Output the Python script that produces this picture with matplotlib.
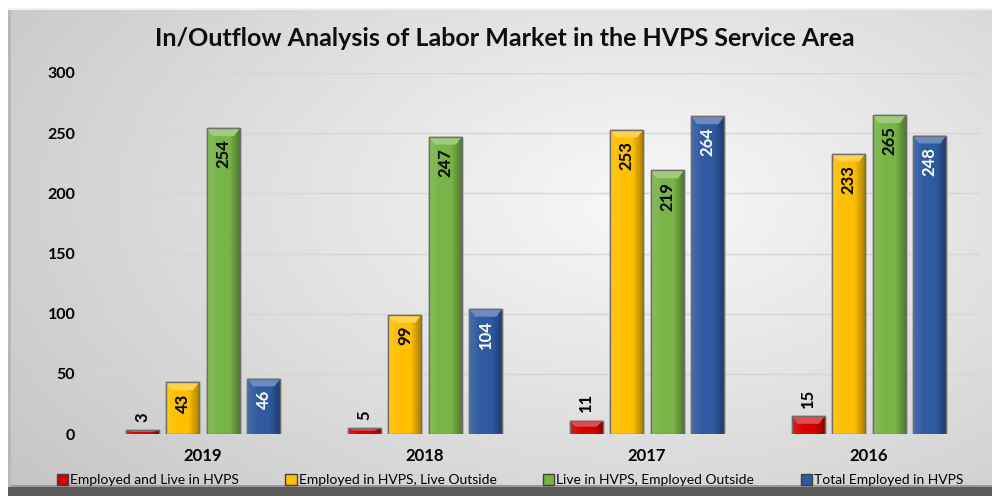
import numpy as np
import matplotlib
matplotlib.use("Agg")
import matplotlib.pyplot as plt
from matplotlib.colors import LinearSegmentedColormap, to_rgb
from matplotlib.patches import Polygon

plt.rcParams['font.family'] = ['Lato', 'DejaVu Sans']

# ---- data ----
years = ["2019", "2018", "2017", "2016"]
series_names = ["Employed and Live in HVPS", "Employed in HVPS, Live Outside",
                "Live in HVPS, Employed Outside", "Total Employed in HVPS"]
employed_live = [3, 5, 11, 15]
employed_outside = [43, 99, 253, 233]
live_employed_out = [254, 247, 219, 265]
total_employed = [46, 104, 264, 248]
y_ticks = [0, 50, 100, 150, 200, 250, 300]
title = "In/Outflow Analysis of Labor Market in the HVPS Service Area"

series = [employed_live, employed_outside, live_employed_out, total_employed]
colors = ["#d40000", "#ffc000", "#78b446", "#2f5aa0"]
label_colors = ["black", "black", "black", "white"]

W, H = 992, 496
fig = plt.figure(figsize=(W / 100, H / 100), dpi=100)
fig.patch.set_facecolor("white")

# ---- background frame with radial gradient ----
bg = fig.add_axes([0, 0, 1, 1], zorder=-10)
bg.set_xlim(0, W)
bg.set_ylim(H, 0)
bg.axis("off")
yy, xx = np.mgrid[0:H, 0:W]
d = np.sqrt(((xx - 640) / 640.0) ** 2 + ((yy - 200) / 380.0) ** 2)
v = np.clip(0.975 - 0.16 * d, 0.78, 0.975)
img = np.dstack([v, v, v])
bg.imshow(img, extent=(8, W, 487, 8), aspect="auto", interpolation="bilinear")
bg.add_patch(plt.Rectangle((8, 487), W - 8, 9, color="#5a5a5a", lw=0))
bg.add_patch(plt.Rectangle((8, 485), W - 8, 2, color="#9a9a9a", lw=0))
bg.add_patch(plt.Rectangle((8, 8), 3, 479, color="#b8b8b8", lw=0))
bg.add_patch(plt.Rectangle((8, 8), W - 8, 2, color="#f2f2f2", lw=0))

# ---- main axes ----
ax = fig.add_axes([92 / W, 62 / H, 888 / W, 361 / H])
ax.set_facecolor("none")
ax.set_ylim(0, 300)
ax.set_xlim(-0.5, len(years) - 0.5)
ax.set_yticks(y_ticks)
ax.set_yticklabels([str(t) for t in y_ticks], fontsize=11.5, fontweight="bold")
ax.set_xticks(range(len(years)))
ax.set_xticklabels(years, fontsize=12, fontweight="bold")
ax.tick_params(axis="both", length=0)
ax.tick_params(axis="y", pad=12)
ax.tick_params(axis="x", pad=10)
for s in ax.spines.values():
    s.set_visible(False)
ax.grid(axis="y", color="#d6d6d6", lw=1)
ax.set_axisbelow(True)

slot = 0.1824
bw = 0.149
x = np.arange(len(years))

def shade(c, f):
    r = np.array(to_rgb(c))
    if f > 0:
        return tuple(r + (1 - r) * f)
    return tuple(r * (1 + f))

for j, (vals, col, name) in enumerate(zip(series, colors, series_names)):
    xs = x + (j - 1.5) * slot
    bars = ax.bar(xs, vals, width=bw, color=col, edgecolor="#6e6e6e", lw=1,
                  label=name, zorder=3)
    cmap = LinearSegmentedColormap.from_list(
        "g%d" % j, [shade(col, 0.12), col, col, shade(col, -0.35)])
    grad = np.linspace(0, 1, 64).reshape(1, -1)
    for b, val in zip(bars, vals):
        x0, w, h = b.get_x(), b.get_width(), b.get_height()
        im = ax.imshow(grad, cmap=cmap, extent=(x0, x0 + w, 0, h),
                       aspect="auto", zorder=3.1, interpolation="bilinear")
        im.set_clip_path(b)
        dy = min(6.5, h * 0.45)
        dx = w * 0.18
        top = Polygon([(x0, h), (x0 + w, h), (x0 + w - dx, h - dy), (x0 + dx, h - dy)],
                      closed=True, facecolor=shade(col, 0.3), edgecolor="none",
                      zorder=3.2)
        ax.add_patch(top)
        ax.add_patch(plt.Rectangle((x0, 0), w, h, fill=False, edgecolor="#6e6e6e",
                                   lw=1, zorder=3.3))
        cx = x0 + w / 2
        if val > 30:
            ax.annotate(str(val), (cx, h), xytext=(0, -8), textcoords="offset points",
                        rotation=90, ha="center", va="top", fontsize=12,
                        fontweight="bold", color=label_colors[j], zorder=5)
        else:
            ax.annotate(str(val), (cx, h), xytext=(0, 6), textcoords="offset points",
                        rotation=90, ha="center", va="bottom", fontsize=12,
                        fontweight="bold", color="black", zorder=5)

ax.set_xlim(-0.5, len(years) - 0.5)
ax.set_ylim(0, 300)

fig.text(505 / W, 1 - 38 / H, title, ha="center", va="center",
         fontsize=18, fontweight="bold", color="#0d0d0d")

handles, labels = ax.get_legend_handles_labels()
leg = fig.legend(handles, labels, loc="center", bbox_to_anchor=(510 / W, 1 - 480 / H),
                 ncol=4, frameon=False, fontsize=10, handlelength=0.8,
                 handleheight=0.8, handletextpad=0.15, columnspacing=3.35)
for h in leg.legend_handles:
    h.set_edgecolor("#404040")

fig.savefig("out.png", dpi=100)
